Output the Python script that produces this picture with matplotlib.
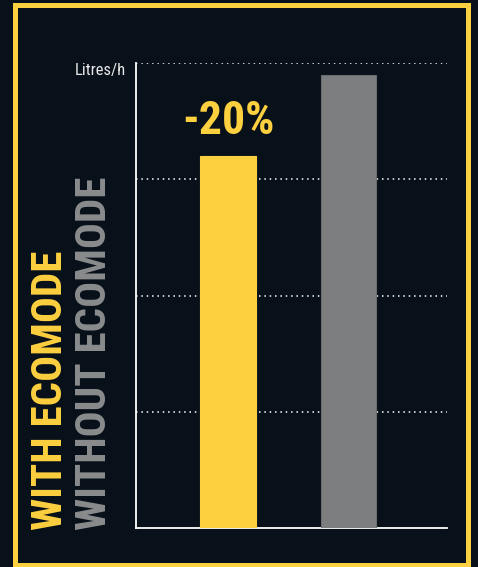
import matplotlib.pyplot as plt
from matplotlib.patches import Rectangle

# data
modes = ['WITH ECOMODE', 'WITHOUT ECOMODE']
consumption = [3.2, 3.9]   # litres/h, arbitrary units
saving_label = '-20%'

BG = '#08111a'
YELLOW = '#fdd040'
GREY = '#7c7e7f'
GREY_TXT = '#8a8b8c'
NARROW = ['Roboto Condensed', 'Liberation Sans Narrow', 'Roboto', 'DejaVu Sans']

fig = plt.figure(figsize=(4.78, 5.67), dpi=100, facecolor=BG)

# yellow frame
fig.patches.append(Rectangle((14.5 / 478, 2.5 / 567), 453 / 478, 560 / 567,
                             transform=fig.transFigure, fill=False,
                             edgecolor=YELLOW, linewidth=3.6))

ax = fig.add_axes([136 / 478, 1 - 528 / 567, 311 / 478, 465 / 567])
ax.set_facecolor(BG)

ax.bar([0, 1], consumption, width=0.46, color=[YELLOW, GREY],
       edgecolor=[YELLOW, '#6a6c6d'], linewidth=0.8, zorder=3)

ax.set_xlim(-0.763, 1.817)
ax.set_ylim(0, 4)
ax.set_yticks([1, 2, 3, 4])
ax.set_xticks([])
ax.tick_params(left=False, labelleft=False)
ax.grid(axis='y', color='white', linestyle=(0, (1, 2.5)), linewidth=1.1)
for s in ['top', 'right']:
    ax.spines[s].set_visible(False)
for s in ['left', 'bottom']:
    ax.spines[s].set_color('white')
    ax.spines[s].set_linewidth(1.3)

ax.annotate(saving_label, (0, consumption[0]), xytext=(0, 9),
            textcoords='offset points', ha='center', va='bottom',
            color=YELLOW, fontsize=33, fontweight='black', family=NARROW)

fig.text(126 / 478, 1 - 70 / 567, 'Litres/h', ha='right', va='center',
         color='#e8e8e8', fontsize=12, family=NARROW)

fig.text(51 / 478, 1 - 530 / 567, modes[0], rotation=90, ha='center',
         va='bottom', color=YELLOW, fontsize=31, fontweight='black',
         family=NARROW)
fig.text(95 / 478, 1 - 530 / 567, modes[1], rotation=90, ha='center',
         va='bottom', color=GREY_TXT, fontsize=31, fontweight='black',
         family=NARROW)

fig.savefig('out.png', dpi=100, facecolor=BG)
